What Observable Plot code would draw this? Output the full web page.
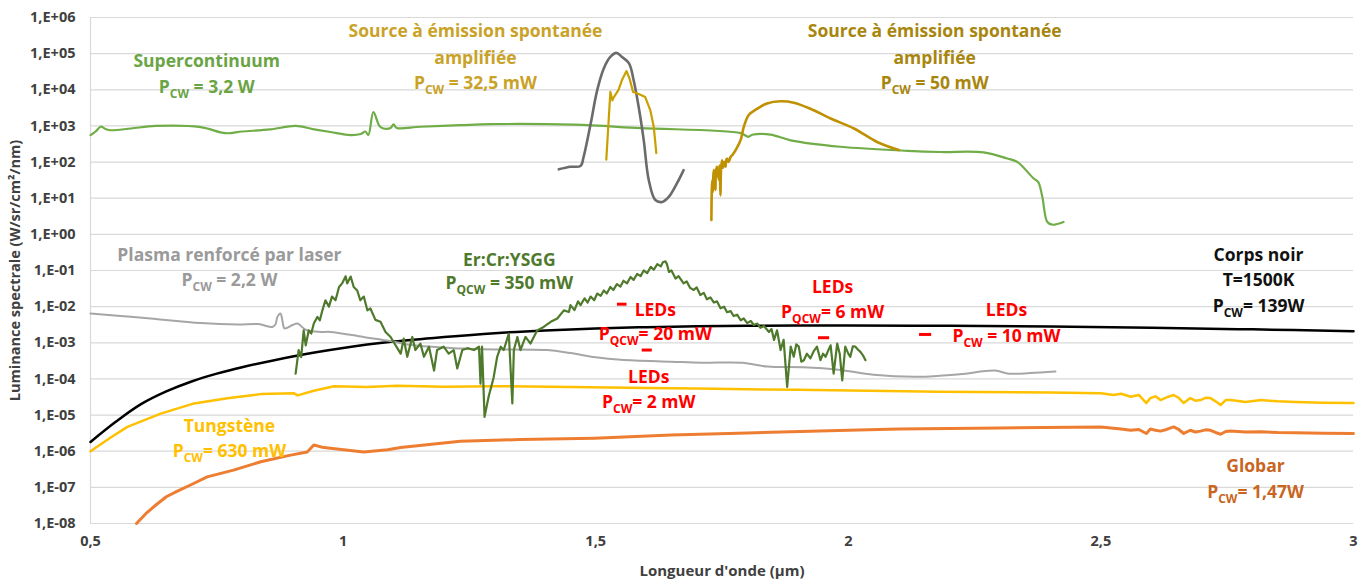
<!DOCTYPE html>
<html>
<head>
<meta charset="utf-8">
<script src="https://cdn.jsdelivr.net/npm/d3@7"></script>
<script src="https://cdn.jsdelivr.net/npm/@observablehq/plot@0.6"></script>
<style>
  html, body { margin: 0; padding: 0; background: #fff; }
  #chart svg { display: block; }
</style>
</head>
<body>
<div id="chart"></div>
<script>
// ---------- data (wavelength in µm, spectral radiance in W/sr/cm²/nm) ----------
const xTicks = [0.5, 1, 1.5, 2, 2.5, 3];
const yTicks = [1e-8, 1e-7, 1e-6, 1e-5, 1e-4, 1e-3, 1e-2, 1e-1, 1e0, 1e1, 1e2, 1e3, 1e4, 1e5, 1e6];

const supercontinuum = [[0.5,555],[0.51,700],[0.52,950],[0.53,820],[0.54,760],[0.58,850],[0.629,1000],[0.718,930],[0.767,630],[0.80,700],[0.856,800],[0.906,1000],[0.94,820],[0.975,680],[1.015,560],[1.035,600],[1.044,700],[1.050,560],[1.060,2400],[1.072,1000],[1.080,850],[1.094,880],[1.100,1100],[1.106,880],[1.153,950],[1.232,1050],[1.292,1120],[1.456,1080],[1.589,870],[1.787,630],[1.802,500],[1.81,570],[1.846,575],[1.886,400],[1.985,265],[2.117,205],[2.183,190],[2.268,185],[2.315,125],[2.335,100],[2.367,35],[2.376,28],[2.384,11],[2.394,2.2],[2.404,1.85],[2.426,2.2]];

const ase325 = [[1.521,117],[1.529,8700],[1.533,5100],[1.536,6300],[1.545,9800],[1.552,18600],[1.561,33000],[1.567,20400],[1.574,8700],[1.585,7600],[1.598,6300],[1.608,2750],[1.615,930],[1.620,178]];

const aseGray = [[1.427,63],[1.450,74],[1.470,78],[1.476,138],[1.490,1150],[1.503,9800],[1.516,39000],[1.529,81000],[1.541,105000],[1.552,81000],[1.566,54000],[1.575,18600],[1.585,3400],[1.595,410],[1.605,32],[1.618,8.9],[1.632,7.9],[1.645,11],[1.661,26],[1.674,60]];

const ase50 = [[1.729,2.5],[1.730,20],[1.731,32],[1.732,15],[1.733,45],[1.734,60],[1.735,25],[1.736,40],[1.737,17],[1.738,55],[1.740,74],[1.741,40],[1.742,60],[1.744,32],[1.745,80],[1.746,45],[1.747,12],[1.748,60],[1.750,112],[1.752,70],[1.754,100],[1.757,74],[1.758,110],[1.760,126],[1.763,100],[1.767,138],[1.771,160],[1.777,214],[1.787,410],[1.793,930],[1.803,2000],[1.820,3000],[1.839,4200],[1.866,4800],[1.892,4400],[1.925,3000],[1.965,1600],[2.011,850],[2.057,360],[2.100,215]];

const plasma = [[0.5,6.5e-3],[0.56,5.5e-3],[0.619,4.7e-3],[0.718,3.5e-3],[0.792,3.2e-3],[0.832,3.3e-3],[0.860,2.75e-3],[0.866,3.2e-3],[0.870,5.2e-3],[0.876,6.5e-3],[0.880,4e-3],[0.884,2.5e-3],[0.900,3.1e-3],[0.910,3.4e-3],[0.926,2.3e-3],[0.955,2.0e-3],[0.975,2.0e-3],[1.04,1.45e-3],[1.096,1.1e-3],[1.139,8.5e-4],[1.232,7.0e-4],[1.272,6.6e-4],[1.404,6.3e-4],[1.45,5.2e-4],[1.5,4.0e-4],[1.55,3.4e-4],[1.65,3.0e-4],[1.71,2.8e-4],[1.79,2.8e-4],[1.84,2.2e-4],[1.91,2.1e-4],[1.98,1.8e-4],[2.05,1.3e-4],[2.14,1.15e-4],[2.22,1.35e-4],[2.29,1.7e-4],[2.318,1.4e-4],[2.36,1.45e-4],[2.41,1.6e-4]];

const erCrYsgg = [[0.906,1.4e-4],[0.912,6.3e-4],[0.917,4e-4],[0.922,2.2e-3],[0.926,8.5e-4],[0.932,2.2e-3],[0.937,1.8e-3],[0.942,3.4e-3],[0.949,5.2e-3],[0.954,4.2e-3],[0.959,7.9e-3],[0.965,1.5e-2],[0.972,1.0e-2],[0.978,1.9e-2],[0.985,1.5e-2],[0.992,3.5e-2],[0.998,4.4e-2],[1.005,6.9e-2],[1.008,4.4e-2],[1.015,6.8e-2],[1.021,3.5e-2],[1.028,2.8e-2],[1.034,1.5e-2],[1.041,1.9e-2],[1.048,7.9e-3],[1.054,8.9e-3],[1.064,4.3e-3],[1.074,3.8e-3],[1.084,2.0e-3],[1.094,1.45e-3],[1.104,8.5e-4],[1.114,5.0e-4],[1.120,1.3e-3],[1.127,4.1e-4],[1.137,1.45e-3],[1.143,6.3e-4],[1.153,9.5e-4],[1.160,4.1e-4],[1.170,7.8e-4],[1.180,1.7e-4],[1.186,6.3e-4],[1.199,7.8e-4],[1.209,5.0e-4],[1.219,6.3e-4],[1.226,1.95e-4],[1.236,6.3e-4],[1.246,7.1e-4],[1.259,6.3e-4],[1.269,7.8e-4],[1.272,7.4e-5],[1.275,7.8e-4],[1.280,8.9e-6],[1.288,3.2e-5],[1.298,1.1e-4],[1.305,4.1e-4],[1.312,7.8e-4],[1.318,6.3e-4],[1.328,1.8e-3],[1.335,2.1e-5],[1.338,6.3e-4],[1.345,1.45e-3],[1.351,6.3e-4],[1.361,1.45e-3],[1.371,9.5e-4],[1.384,2.2e-3],[1.397,2.75e-3],[1.411,3.8e-3],[1.424,4.7e-3],[1.437,7.9e-3],[1.447,7.1e-3],[1.450,1.1e-2],[1.458,8e-3],[1.465,1.4e-2],[1.470,1.1e-2],[1.478,1.7e-2],[1.484,1.3e-2],[1.490,1.9e-2],[1.497,1.5e-2],[1.503,2.3e-2],[1.510,2.0e-2],[1.516,2.8e-2],[1.522,2.3e-2],[1.529,3.5e-2],[1.535,2.9e-2],[1.542,4.2e-2],[1.549,3.6e-2],[1.555,5.2e-2],[1.562,4.4e-2],[1.569,6.6e-2],[1.575,5.5e-2],[1.582,8.0e-2],[1.589,7.0e-2],[1.595,0.1],[1.602,8.5e-2],[1.609,0.126],[1.615,0.105],[1.622,0.15],[1.629,0.13],[1.633,0.17],[1.638,0.18],[1.641,0.15],[1.645,9.1e-2],[1.650,0.1],[1.658,6.0e-2],[1.664,7e-2],[1.674,4.4e-2],[1.680,5e-2],[1.687,3.3e-2],[1.694,2.9e-2],[1.700,3.4e-2],[1.707,2.1e-2],[1.714,2.4e-2],[1.720,1.6e-2],[1.727,1.8e-2],[1.734,1.3e-2],[1.740,1.4e-2],[1.747,9e-3],[1.754,1.0e-2],[1.760,7e-3],[1.767,7.5e-3],[1.773,5.5e-3],[1.780,6e-3],[1.787,4.2e-3],[1.793,4.7e-3],[1.800,3.5e-3],[1.807,4e-3],[1.813,3.1e-3],[1.820,3.4e-3],[1.826,2.6e-3],[1.833,2.9e-3],[1.843,2.0e-3],[1.848,2.4e-3],[1.853,1.2e-3],[1.859,2.2e-3],[1.866,6.3e-4],[1.872,1.2e-3],[1.879,6.0e-5],[1.886,7.8e-4],[1.892,4.1e-4],[1.897,9e-4],[1.902,7.8e-4],[1.907,3e-4],[1.912,3.3e-4],[1.918,5e-4],[1.925,3.7e-4],[1.932,6e-4],[1.938,7.8e-4],[1.945,3.3e-4],[1.950,5e-4],[1.955,4.1e-4],[1.960,6e-4],[1.965,8.5e-4],[1.971,1.4e-4],[1.978,9.5e-4],[1.983,5e-4],[1.988,9.1e-5],[1.994,7.8e-4],[2.000,5e-4],[2.004,4.1e-4],[2.009,8e-4],[2.014,7.8e-4],[2.019,6.5e-4],[2.024,5.6e-4],[2.029,4.5e-4],[2.034,3.3e-4]];

const blackBody1500K = [[0.5,1.8e-6],[0.55,6.5e-6],[0.6,2e-5],[0.65,4.5e-5],[0.7,8.5e-5],[0.75,1.4e-4],[0.8,2.1e-4],[0.9,4.2e-4],[1.0,7.2e-4],[1.1,1.08e-3],[1.2,1.45e-3],[1.3,1.85e-3],[1.4,2.2e-3],[1.5,2.5e-3],[1.6,2.7e-3],[1.7,2.85e-3],[1.8,2.95e-3],[1.9,3.0e-3],[2.0,3.0e-3],[2.2,2.95e-3],[2.4,2.8e-3],[2.6,2.6e-3],[2.8,2.35e-3],[3.0,2.1e-3]];

const tungsten = [[0.5,1.0e-6],[0.54,2.4e-6],[0.573,4.7e-6],[0.639,1.1e-5],[0.705,2.1e-5],[0.771,2.9e-5],[0.837,3.8e-5],[0.903,4.0e-5],[0.910,3.5e-5],[0.942,4.7e-5],[0.982,6.3e-5],[1.048,6.0e-5],[1.107,6.5e-5],[1.2,6.1e-5],[1.3,6.3e-5],[1.45,6.0e-5],[1.6,5.6e-5],[1.70,5.4e-5],[1.9,5.0e-5],[2.18,4.4e-5],[2.4,4.2e-5],[2.5,4.0e-5],[2.525,3.6e-5],[2.54,3.9e-5],[2.559,3.2e-5],[2.575,3.6e-5],[2.590,2.15e-5],[2.598,2.95e-5],[2.608,3.3e-5],[2.618,2.6e-5],[2.63,3.1e-5],[2.644,3.6e-5],[2.654,3.0e-5],[2.664,2.15e-5],[2.677,2.95e-5],[2.687,2.5e-5],[2.697,2.6e-5],[2.707,3.0e-5],[2.717,2.95e-5],[2.727,2.4e-5],[2.737,1.9e-5],[2.747,2.6e-5],[2.757,2.6e-5],[2.786,2.3e-5],[2.817,2.6e-5],[2.85,2.4e-5],[2.885,2.3e-5],[2.94,2.2e-5],[3.0,2.15e-5]];

const globar = [[0.591,1e-8],[0.61,1.9e-8],[0.63,3.3e-8],[0.650,5.5e-8],[0.670,7.6e-8],[0.70,1.2e-7],[0.731,1.95e-7],[0.783,3.0e-7],[0.837,5.1e-7],[0.896,7.8e-7],[0.929,9.5e-7],[0.942,1.48e-6],[0.962,1.26e-6],[1.001,1.1e-6],[1.041,9.5e-7],[1.088,1.1e-6],[1.114,1.26e-6],[1.232,1.9e-6],[1.35,2.1e-6],[1.497,2.3e-6],[1.65,2.8e-6],[1.8,3.2e-6],[2.0,3.8e-6],[2.1,4.1e-6],[2.3,4.4e-6],[2.5,4.7e-6],[2.525,4.35e-6],[2.54,4.1e-6],[2.559,3.8e-6],[2.575,4.0e-6],[2.590,3.1e-6],[2.598,4.1e-6],[2.608,3.8e-6],[2.618,3.6e-6],[2.63,4.0e-6],[2.644,4.7e-6],[2.654,4.0e-6],[2.664,3.1e-6],[2.677,3.8e-6],[2.687,3.4e-6],[2.697,3.6e-6],[2.707,3.9e-6],[2.717,3.8e-6],[2.727,3.3e-6],[2.737,2.95e-6],[2.747,3.5e-6],[2.757,3.6e-6],[2.786,3.4e-6],[2.817,3.45e-6],[2.85,3.3e-6],[2.885,3.25e-6],[2.94,3.15e-6],[3.0,3.1e-6]];

// LED measurements: wavelength span [from, to] and radiance
const ledFrom = [1.543, 1.592, 1.941, 2.141];
const ledTo   = [1.562, 1.612, 1.963, 2.165];
const ledLum  = [1.17e-2, 6.3e-4, 1.38e-3, 1.7e-3];

// Annotation texts ("_{..}" = subscript)
const labelText = [
  "Supercontinuum", "P_{CW} = 3,2 W",
  "Source à émission spontanée", "amplifiée", "P_{CW} = 32,5 mW",
  "Source à émission spontanée", "amplifiée", "P_{CW} = 50 mW",
  "Plasma renforcé par laser", "P_{CW} = 2,2 W",
  "Er:Cr:YSGG", "P_{QCW} = 350 mW",
  "Corps noir", "T=1500K", "P_{CW}= 139W",
  "LEDs", "P_{QCW}= 20 mW",
  "LEDs", "P_{CW}= 2 mW",
  "LEDs", "P_{QCW}= 6 mW",
  "LEDs", "P_{CW} = 10 mW",
  "Tungstène", "P_{CW}= 630 mW",
  "Globar", "P_{CW}= 1,47W"
];
const labelX = [0.730, 0.730, 1.262, 1.262, 1.262, 2.171, 2.171, 2.171, 0.775, 0.775, 1.329, 1.329, 2.812, 2.812, 2.812, 1.618, 1.618, 1.605, 1.605, 1.969, 1.969, 2.313, 2.313, 0.775, 0.775, 2.806, 2.806];
const labelY = [6.2e4, 1.2e4, 4.0e5, 7.6e4, 1.5e4, 4.0e5, 7.6e4, 1.5e4, 0.266, 0.054, 0.193, 0.0447, 0.266, 0.054, 0.0102, 8.0e-3, 1.74e-3, 1.12e-4, 2.3e-5, 0.0347, 7.1e-3, 8.0e-3, 1.55e-3, 4.9e-6, 1.0e-6, 3.9e-7, 7.4e-8];
const labelSeries = ["sc","sc","ase1","ase1","ase1","ase2","ase2","ase2","plasma","plasma","er","er","bb","bb","bb","led","led","led","led","led","led","led","led","w","w","globar","globar"];

// ---------- styles ----------
const lineColor = {sc:"#70AD47", ase1:"#C9A000", gray:"#6B6B6B", ase2:"#BF9000", plasma:"#A6A6A6", er:"#4F7A2C", bb:"#000000", w:"#FFC000", globar:"#ED7D31", led:"#FF0000"};
const textColor = {sc:"#6AA444", ase1:"#C9A227", ase2:"#A8860E", plasma:"#9A9A9A", er:"#4F7A2C", bb:"#111111", led:"#FF0000", w:"#FFC000", globar:"#C8661F"};

const toRows = arr => arr.map(([x, y]) => ({x, y}));
const leds = ledFrom.map((f, i) => ({x1: f, x2: ledTo[i], y: ledLum[i]}));
const labels = labelText.map((t, i) => ({text: t, x: labelX[i], y: labelY[i], color: textColor[labelSeries[i]]}));

const fmtY = d => {
  const e = Math.round(Math.log10(d));
  return "1,E" + (e < 0 ? "-" : "+") + String(Math.abs(e)).padStart(2, "0");
};
const fmtX = d => String(d).replace(".", ",");

const FONT = "'Open Sans', Lato, sans-serif";

const line = (data, key, w, curve = "linear") =>
  Plot.line(toRows(data), {x: "x", y: "y", stroke: lineColor[key], strokeWidth: w, curve, strokeLinejoin: "round"});

const chart = Plot.plot({
  width: 1371,
  height: 580,
  marginLeft: 90,
  marginRight: 18,
  marginTop: 17,
  marginBottom: 57,
  style: {fontFamily: FONT, background: "#ffffff", overflow: "visible"},
  x: {domain: [0.5, 3]},
  y: {type: "log", domain: [1e-8, 1e6]},
  color: {type: "identity"},
  marks: [
    Plot.gridY(yTicks, {stroke: "#D9D9D9", strokeOpacity: 1, strokeWidth: 1.2}),
    Plot.ruleX([0.5], {stroke: "#D9D9D9", strokeWidth: 1.2}),
    Plot.axisY(yTicks, {tickSize: 0, tickPadding: 15, tickFormat: fmtY, label: null, fontSize: 14.5, fontWeight: "bold", fill: "#404040"}),
    Plot.axisX(xTicks, {tickSize: 0, tickPadding: 12, tickFormat: fmtX, label: null, fontSize: 14.5, fontWeight: "bold", fill: "#404040"}),
    Plot.text(["Luminance spectrale (W/sr/cm²/nm)"], {frameAnchor: "left", dx: -75, rotate: -90, textAnchor: "middle", lineAnchor: "middle", text: d => d, fontSize: 14.5, fontWeight: "bold", fill: "#404040"}),
    Plot.text(["Longueur d'onde (µm)"], {frameAnchor: "bottom", dy: 48, textAnchor: "middle", lineAnchor: "middle", text: d => d, fontSize: 15, fontWeight: "bold", fill: "#404040"}),
    line(supercontinuum, "sc", 2.2, "catmull-rom"),
    line(blackBody1500K, "bb", 2.5, "catmull-rom"),
    line(plasma, "plasma", 2, "catmull-rom"),
    line(tungsten, "w", 2.5),
    line(globar, "globar", 3),
    line(erCrYsgg, "er", 2.2),
    line(aseGray, "gray", 2.6, "catmull-rom"),
    line(ase325, "ase1", 2.2),
    line(ase50, "ase2", 2.6, "catmull-rom"),
    Plot.ruleY(leds, {y: "y", x1: "x1", x2: "x2", stroke: lineColor.led, strokeWidth: 3}),
    Plot.text(labels, {x: "x", y: "y", text: "text", fill: "color", fontSize: 17.5, fontWeight: "bold"})
  ]
});

// render subscripts "_{..}" as smaller, lowered tspans
d3.select(chart).selectAll("text").each(function () {
  const t = this.textContent;
  if (!t.includes("_{")) return;
  const parts = t.split(/(_\{[^}]*\})/).filter(p => p);
  while (this.firstChild) this.removeChild(this.firstChild);
  let lowered = false;
  for (const p of parts) {
    const m = p.match(/^_\{(.*)\}$/);
    const ts = d3.select(this).append("tspan");
    if (m) {
      ts.text(m[1]).attr("font-size", "12").attr("dy", "5");
      lowered = true;
    } else {
      ts.text(p);
      if (lowered) { ts.attr("dy", "-5"); lowered = false; }
    }
  }
});

document.getElementById("chart").appendChild(chart);
</script>
</body>
</html>
